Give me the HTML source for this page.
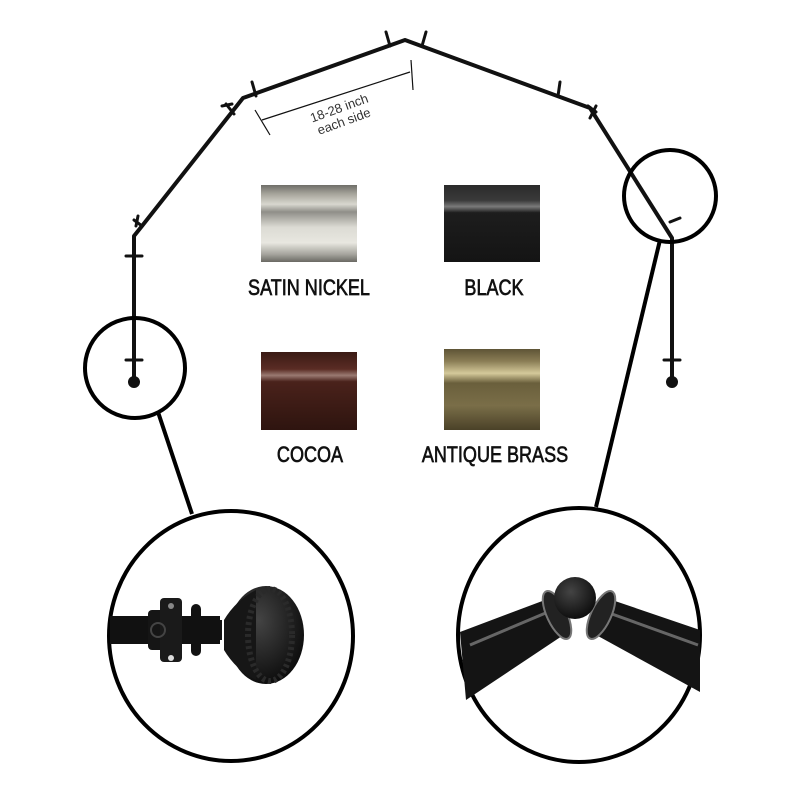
<!DOCTYPE html>
<html><head><meta charset="utf-8"><style>
html,body{margin:0;padding:0;background:#fff;}
svg{display:block;}
text{font-family:"Liberation Sans",sans-serif;}
</style></head><body>
<svg width="800" height="800" viewBox="0 0 800 800" xmlns="http://www.w3.org/2000/svg">
<defs>
<linearGradient id="nickel" x1="0" y1="0" x2="0" y2="1">
<stop offset="0" stop-color="#6f6e68"/><stop offset="0.12" stop-color="#a8a69d"/><stop offset="0.25" stop-color="#d8d7cf"/><stop offset="0.35" stop-color="#8f8e88"/><stop offset="0.55" stop-color="#dcdbd4"/><stop offset="0.75" stop-color="#e8e7e0"/><stop offset="0.9" stop-color="#a5a49d"/><stop offset="1" stop-color="#6a6963"/></linearGradient>
<linearGradient id="black" x1="0" y1="0" x2="0" y2="1">
<stop offset="0" stop-color="#2a2a2a"/><stop offset="0.2" stop-color="#3a3a3a"/><stop offset="0.28" stop-color="#7a7a7a"/><stop offset="0.36" stop-color="#1d1d1d"/><stop offset="1" stop-color="#141414"/></linearGradient>
<linearGradient id="cocoa" x1="0" y1="0" x2="0" y2="1">
<stop offset="0" stop-color="#3a1a14"/><stop offset="0.22" stop-color="#5a2c24"/><stop offset="0.3" stop-color="#9a7a72"/><stop offset="0.38" stop-color="#4a221b"/><stop offset="1" stop-color="#2e140f"/></linearGradient>
<linearGradient id="brass" x1="0" y1="0" x2="0" y2="1">
<stop offset="0" stop-color="#5e5436"/><stop offset="0.15" stop-color="#8a7d55"/><stop offset="0.3" stop-color="#d4c99a"/><stop offset="0.42" stop-color="#6a5f3c"/><stop offset="0.7" stop-color="#7a6e48"/><stop offset="1" stop-color="#4a4128"/></linearGradient>
<radialGradient id="ball" cx="0.4" cy="0.35" r="0.7"><stop offset="0" stop-color="#444"/><stop offset="1" stop-color="#0a0a0a"/></radialGradient>
</defs>

<g stroke="#111" stroke-width="4" fill="none" stroke-linejoin="round">
<polyline points="134,378 134,236 142,226 243,98 405,40 590,108 672,238 672,378"/>
</g>
<g stroke="#111" stroke-width="3" stroke-linecap="round">
<line x1="226" y1="104" x2="234" y2="114"/><line x1="222" y1="106" x2="232" y2="104"/>
<line x1="252" y1="82" x2="256" y2="96"/>
<line x1="386" y1="32" x2="390" y2="46"/>
<line x1="426" y1="32" x2="422" y2="46"/>
<line x1="560" y1="82" x2="558" y2="96"/>
<line x1="588" y1="106" x2="596" y2="112"/><line x1="596" y1="106" x2="590" y2="118"/>
<line x1="134" y1="220" x2="142" y2="226"/><line x1="138" y1="216" x2="136" y2="226"/>
<line x1="126" y1="256" x2="142" y2="256"/>
<line x1="126" y1="360" x2="142" y2="360"/>
<line x1="670" y1="222" x2="680" y2="218"/>
<line x1="664" y1="360" x2="680" y2="360"/>
</g>
<circle cx="134" cy="382" r="6" fill="#111"/>
<circle cx="672" cy="382" r="6" fill="#111"/>

<g stroke="#111" stroke-width="1.2">
<line x1="262" y1="120" x2="410" y2="72"/>
<line x1="255" y1="110" x2="270" y2="135"/>
<line x1="411" y1="60" x2="413" y2="90"/>
</g>
<g transform="translate(342,116) rotate(-20)" fill="#333" font-size="13">
<text x="0" y="-4" text-anchor="middle">18-28 inch</text>
<text x="0" y="10" text-anchor="middle">each side</text>
</g>

<rect x="261" y="185" width="96" height="77" fill="url(#nickel)"/>
<rect x="444" y="185" width="96" height="77" fill="url(#black)"/>
<rect x="261" y="352" width="96" height="78" fill="url(#cocoa)"/>
<rect x="444" y="349" width="96" height="81" fill="url(#brass)"/>
<g font-size="22" fill="#111" stroke="#111" stroke-width="0.7" text-anchor="middle">
<text x="0" y="0" transform="translate(309,295) scale(0.82,1)">SATIN NICKEL</text>
<text x="0" y="0" transform="translate(494,295) scale(0.82,1)">BLACK</text>
<text x="0" y="0" transform="translate(310,462) scale(0.82,1)">COCOA</text>
<text x="0" y="0" transform="translate(495,462) scale(0.82,1)">ANTIQUE BRASS</text>
</g>

<g stroke="#000" stroke-width="4" fill="none">
<circle cx="135" cy="368" r="50"/>
<circle cx="670" cy="196" r="46"/>
<line x1="158" y1="412" x2="192" y2="514"/>
<line x1="660" y1="240" x2="596" y2="507"/>
<ellipse cx="231" cy="636" rx="122" ry="125"/>
<ellipse cx="579" cy="635" rx="121" ry="127"/>
</g>

<g>
<rect x="110" y="616" width="110" height="28" fill="#111"/>
<rect x="148" y="610" width="28" height="40" rx="4" fill="#151515"/>
<rect x="160" y="598" width="22" height="64" rx="4" fill="#1a1a1a"/>
<circle cx="171" cy="606" r="3" fill="#888"/>
<circle cx="171" cy="658" r="3" fill="#ddd"/>
<circle cx="158" cy="630" r="7" fill="none" stroke="#444" stroke-width="2"/>
<rect x="191" y="604" width="10" height="52" rx="5" fill="#111"/>
<rect x="200" y="620" width="22" height="20" fill="#111"/>
<ellipse cx="266" cy="635" rx="38" ry="49" fill="url(#ball)"/>
<path d="M224,620 Q236,600 256,590 L256,680 Q236,670 224,650 Z" fill="#161616"/>
<ellipse cx="270" cy="635" rx="22" ry="46" fill="none" stroke="#2a2a2a" stroke-width="6" stroke-dasharray="3 3"/>
</g>

<g>
<polygon points="460,632 545,600 562,636 466,700" fill="#141414"/>
<polygon points="598,636 612,600 700,630 700,692" fill="#141414"/>
<line x1="470" y1="645" x2="548" y2="612" stroke="#666" stroke-width="3"/>
<line x1="612" y1="614" x2="698" y2="645" stroke="#666" stroke-width="3"/>
<ellipse cx="557" cy="615" rx="10" ry="26" transform="rotate(-25 557 615)" fill="#222" stroke="#777" stroke-width="2"/>
<ellipse cx="601" cy="615" rx="10" ry="26" transform="rotate(25 601 615)" fill="#222" stroke="#777" stroke-width="2"/>
<circle cx="575" cy="598" r="21" fill="url(#ball)"/>
</g>
</svg>
</body></html>
